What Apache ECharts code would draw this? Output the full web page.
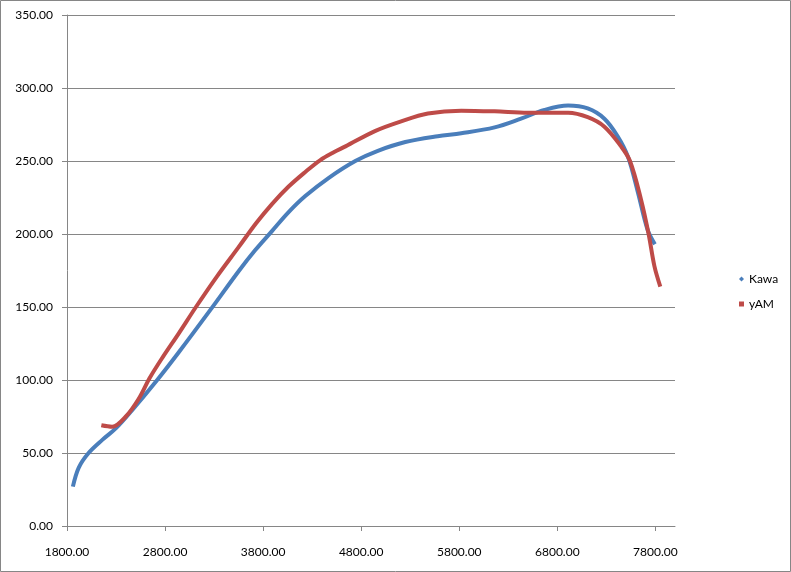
<!DOCTYPE html>
<html>
<head>
<meta charset="utf-8">
<script src="https://cdn.jsdelivr.net/npm/echarts@6/dist/echarts.min.js"></script>
<style>
html,body{margin:0;padding:0;background:#fff;}
#c{width:791px;height:572px;}
</style>
</head>
<body>
<div id="c"></div>
<script>
const seriesNames = ['Kawa', 'yAM'];
const kawaData = [
  [1860,27],[1920,40],[2020,50],[2160,59],[2300,67],[2460,79],[2720,100],[2940,119],
  [3262,148],[3550,174.5],[3720,189],[3890,202],[4060,215],[4230,226],[4470,238.5],
  [4740,250],[4970,257],[5250,263],[5580,267],[5820,269],[6160,273],[6430,279],
  [6670,285],[6910,288],[7110,286],[7280,279],[7415,267],[7520,253],[7620,229],
  [7720,203],[7795,193]
];
const yamData = [
  [2150,69],[2260,68],[2400,75],[2530,87],[2640,101],[2770,115],[2940,132],
  [3115,150],[3330,171],[3550,191],[3730,207.5],[3890,220.5],[4060,232.5],[4230,242.5],
  [4380,250.5],[4520,256],[4640,260],[4940,270.5],[5200,277],[5480,282.5],[5820,284.5],[6160,284],
  [6500,283],[6910,283],[7110,280],[7280,273.5],[7450,260],[7541,250],[7652,224],
  [7731,200],[7790,178],[7850,164]
];
const xTicks = [1800,2800,3800,4800,5800,6800,7800];
const yTicks = [0,50,100,150,200,250,300,350];

const FONT = 'Lato, "Open Sans", sans-serif';
const chart = echarts.init(document.getElementById('c'), null, {renderer:'canvas'});
chart.setOption({
  animation:false,
  backgroundColor:'#fff',
  graphic:[{type:'rect', shape:{x:0.5,y:0.5,width:790,height:571}, style:{fill:'none',stroke:'#868686',lineWidth:1}, silent:true}],
  grid:{left:67,right:116,top:15,bottom:46},
  legend:{
    orient:'vertical', left:734, top:268, itemGap:13, itemWidth:5, itemHeight:5,
    textStyle:{fontFamily:FONT,fontSize:12,color:'#000'},
    data:[{name:'Kawa',icon:'diamond'},{name:'yAM',icon:'rect'}]
  },
  xAxis:{
    type:'value', min:xTicks[0], max:8000, interval:1000,
    axisLine:{show:true,lineStyle:{color:'#868686',width:1}},
    axisTick:{show:true,length:5,customValues:xTicks,lineStyle:{color:'#868686'}},
    axisLabel:{customValues:xTicks,margin:20,fontFamily:FONT,fontSize:12,color:'#000',formatter:v=>Number(v).toFixed(2)},
    splitLine:{show:false}
  },
  yAxis:{
    type:'value', min:yTicks[0], max:yTicks[yTicks.length-1], interval:50,
    axisLine:{show:true,lineStyle:{color:'#868686',width:1}},
    axisTick:{show:true,length:5,lineStyle:{color:'#868686'}},
    axisLabel:{margin:14,fontFamily:FONT,fontSize:12,color:'#000',formatter:v=>Number(v).toFixed(2)},
    splitLine:{show:true,lineStyle:{color:'#868686',width:1}}
  },
  series:[
    {name:seriesNames[0], type:'line', data:kawaData, smooth:0.35, showSymbol:false, symbol:'diamond',
     itemStyle:{color:'#4A7EBB'}, lineStyle:{color:'#4A7EBB',width:4}},
    {name:seriesNames[1], type:'line', data:yamData, smooth:0.35, showSymbol:false, symbol:'rect',
     itemStyle:{color:'#BE4B48'}, lineStyle:{color:'#BE4B48',width:4}}
  ]
});
</script>
</body>
</html>
